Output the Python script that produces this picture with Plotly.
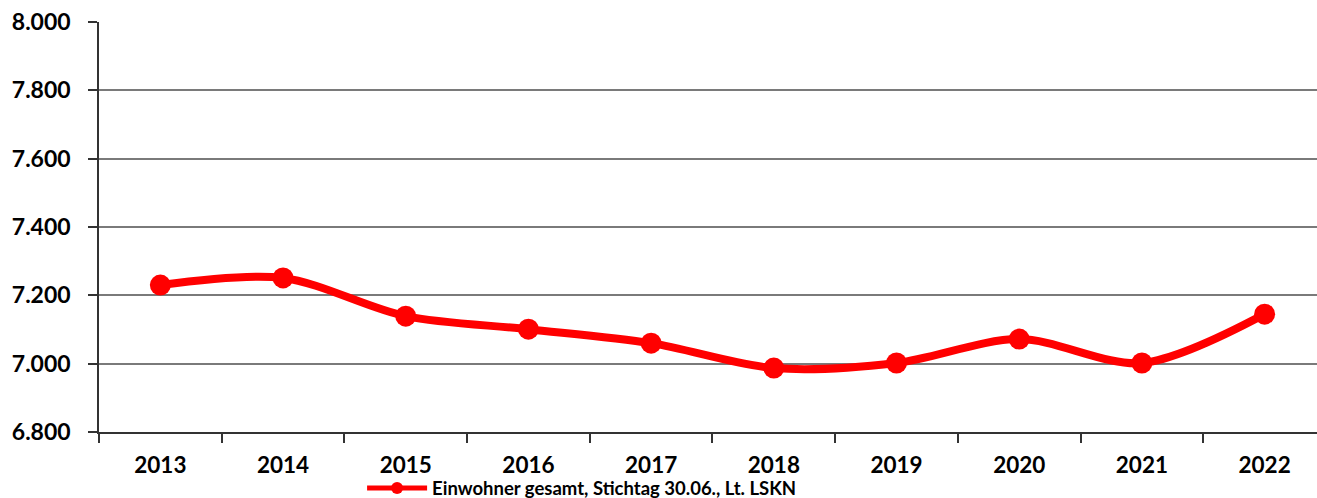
import plotly.graph_objects as go

# Population figures (Einwohner) per year, reference date 30 June
years = ["2013", "2014", "2015", "2016", "2017", "2018", "2019", "2020", "2021", "2022"]
einwohner = [7230, 7251, 7139, 7101, 7060, 6987, 7002, 7072, 7002, 7145]

y_ticks = [6800, 7000, 7200, 7400, 7600, 7800, 8000]
series_name = "Einwohner gesamt, Stichtag 30.06., Lt. LSKN"

FONT = "Lato, 'Open Sans', sans-serif"

fig = go.Figure()
fig.add_trace(go.Scatter(
    x=years,
    y=einwohner,
    name=series_name,
    mode="lines+markers",
    line=dict(color="#FF0000", width=8, shape="spline", smoothing=0.9),
    marker=dict(color="#FF0000", size=21),
    showlegend=True,
))

fig.update_layout(
    width=1317,
    height=498,
    margin=dict(l=99, r=0, t=22, b=66, autoexpand=False),
    paper_bgcolor="white",
    plot_bgcolor="white",
    separators=",.",
    font=dict(family=FONT, color="black"),
    showlegend=True,
    legend=dict(
        orientation="h",
        x=0.216,
        xanchor="left",
        y=-0.138,
        yanchor="middle",
        font=dict(family=FONT, size=18.5, color="black", weight="bold"),
        itemwidth=60,
        itemsizing="constant",
        bgcolor="rgba(0,0,0,0)",
    ),
)

fig.update_xaxes(
    type="category",
    range=[-0.5, 9.427],
    tickson="boundaries",
    ticks="outside",
    ticklen=9,
    tickwidth=1.5,
    tickcolor="#333333",
    showgrid=False,
    showline=True,
    linecolor="#333333",
    linewidth=1.5,
    automargin=False,
    ticklabelstandoff=12,
    tickfont=dict(family=FONT, size=22.5, color="black", weight="bold"),
    fixedrange=True,
)

fig.update_yaxes(
    range=[6800, 8000],
    tickvals=y_ticks,
    tickformat=",d",
    ticks="outside",
    ticklen=9,
    tickwidth=1.5,
    tickcolor="#333333",
    showgrid=True,
    gridcolor="#7a7a7a",
    gridwidth=1.5,
    showline=True,
    linecolor="#333333",
    linewidth=1.5,
    zeroline=False,
    automargin=False,
    ticklabelstandoff=13,
    tickfont=dict(family=FONT, size=23, color="black", weight="bold"),
    fixedrange=True,
)

fig.write_html("out.html")
